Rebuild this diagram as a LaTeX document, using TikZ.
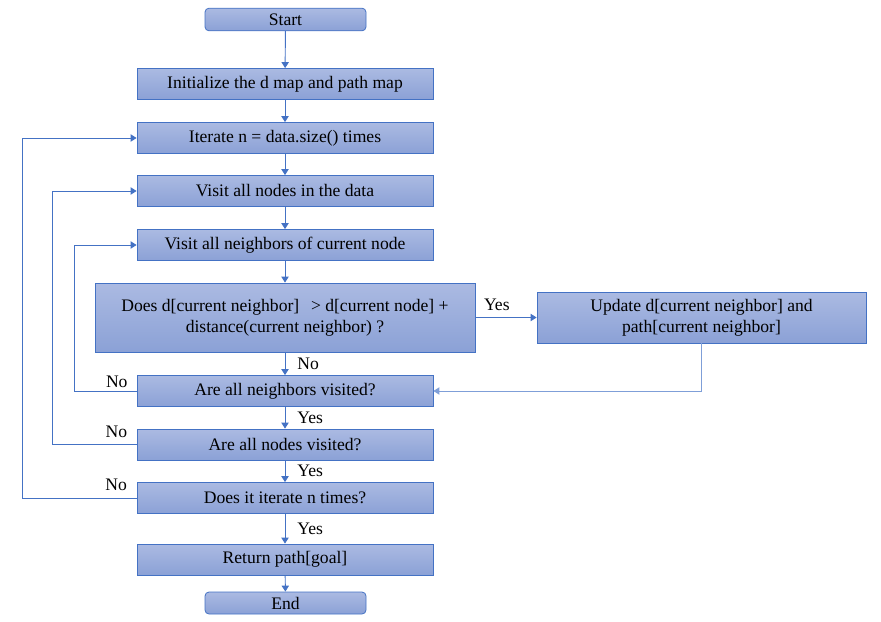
\documentclass[tikz,border=0pt]{standalone}
\usepackage{fontspec}
\setmainfont{Liberation Serif}
\usetikzlibrary{arrows.meta,calc}
\definecolor{edgeblue}{HTML}{4472C4}
\definecolor{backblue}{HTML}{7F9FD8}
\definecolor{boxtop}{RGB}{171,186,226}
\definecolor{boxbot}{RGB}{139,161,214}

\tikzset{
  stepbox/.style={draw=edgeblue, line width=0.6pt, top color=boxtop, bottom color=boxbot, minimum width=222pt, minimum height=23.25pt, inner sep=2pt, align=center, font=\fontsize{13.2}{15.5}\selectfont},
  termbox/.style={stepbox, rounded corners=3pt, minimum width=120.75pt, minimum height=17pt},
  flow/.style={draw=edgeblue, line width=0.7pt, -{Triangle[width=5.5pt,length=4.5pt]}},
  lbl/.style={font=\fontsize{13.2}{15}\selectfont, inner sep=1pt}
}

\begin{document}
\begin{tikzpicture}[x=0.75pt, y=-0.75pt]
            \useasboundingbox (0,0) rectangle (881,621);
            % boxes
            \node (start) [termbox] at (285.5,19.5) {Start};
            \node (init) [stepbox] at (285,84) {Initialize the d map and path map};
            \node (iter) [stepbox] at (285,138) {Iterate n = data.size() times};
            \node (visnodes) [stepbox] at (285,191) {Visit all nodes in the data};
            \node (visnbr) [stepbox] at (285,245) {Visit all neighbors of current node};
            \node (cmp) [stepbox, minimum width=285pt, minimum height=51.75pt] at (285,317.5) {Does d[current neighbor]~~\,\textgreater\ d[current node] +\\distance(current neighbor) ?};
            \node (update) [stepbox, minimum width=246.75pt, minimum height=38.25pt] at (701.5,317.5) {Update d[current neighbor] and\\path[current neighbor]};
            \node (nbrq) [stepbox] at (285,391) {Are all neighbors visited?};
            \node (nodesq) [stepbox] at (285,444.5) {Are all nodes visited?};
            \node (iterq) [stepbox] at (285,498) {Does it iterate n times?};
            \node (ret) [stepbox] at (285,559.5) {Return path[goal]};
            \node (end) [termbox, minimum height=16.5pt] at (285.5,603) {End};
            % main flow
            \draw[flow] (start) -- (init);
            \draw[flow] (init) -- (iter);
            \draw[flow] (iter) -- (visnodes);
            \draw[flow] (visnodes) -- (visnbr);
            \draw[flow] (visnbr) -- (cmp);
            \draw[flow] (cmp) -- node[lbl, right=8pt] {No} (nbrq);
            \draw[flow] (nbrq) -- node[lbl, right=8pt] {Yes} (nodesq);
            \draw[flow] (nodesq) -- node[lbl, right=8pt] {Yes} (iterq);
            \draw[flow] (iterq) -- node[lbl, right=8pt] {Yes} (ret);
            \draw[flow] (ret) -- (end);
            % update branch
            \draw[flow] (cmp.east) -- node[lbl, above, pos=0.35, yshift=4pt] {Yes} (update.west);
            \draw[flow, draw=backblue] (update.south) |- (nbrq.east);
            % loops back
            \draw[flow] (nbrq.west) -- node[lbl, above, pos=0.32, yshift=1pt] {No} ++(-62,0) |- (visnbr.west);
            \draw[flow] (nodesq.west) -- node[lbl, above, pos=0.24, yshift=4pt] {No} ++(-84,0) |- (visnodes.west);
            \draw[flow] (iterq.west) -- node[lbl, above, pos=0.18, yshift=4pt] {No} ++(-114,0) |- (iter.west);
        \end{tikzpicture}
\end{document}
